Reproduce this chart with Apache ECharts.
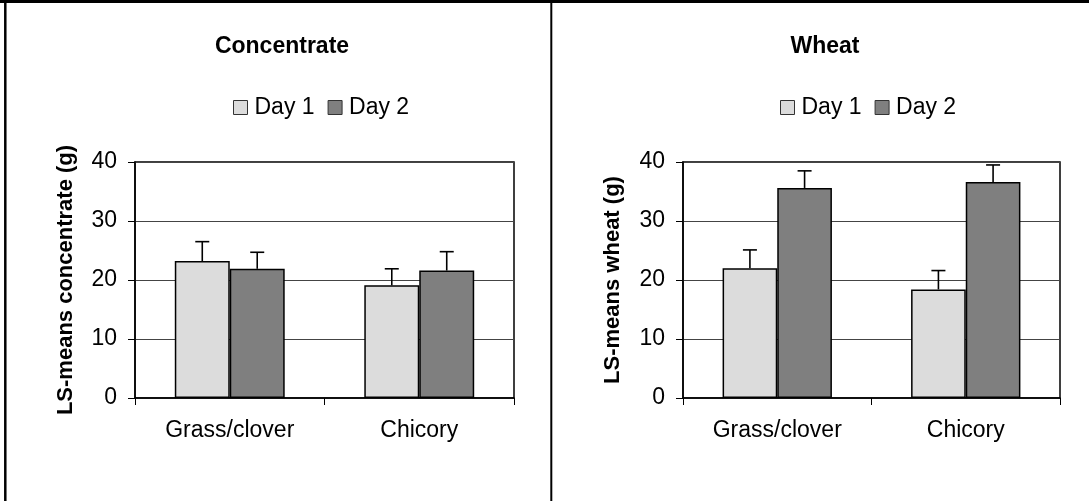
<!DOCTYPE html>
<html>
<head>
<meta charset="utf-8">
<script src="https://cdn.jsdelivr.net/npm/echarts@6/dist/echarts.min.js"></script>
<style>
html,body{margin:0;padding:0;background:#fff;}
#c{width:1089px;height:501px;}
</style>
</head>
<body>
<div id="c"></div>
<script>
const categories = ['Grass/clover', 'Chicory'];
const seriesNames = ['Day 1', 'Day 2'];
const concDay1 = [23.2, 19.1];
const concDay1Upper = [26.5, 21.9];
const concDay2 = [21.9, 21.6];
const concDay2Upper = [24.7, 24.8];
const wheatDay1 = [22.0, 18.4];
const wheatDay1Upper = [25.1, 21.6];
const wheatDay2 = [35.6, 36.6];
const wheatDay2Upper = [38.5, 39.5];
const yMin = 0, yMax = 40, yInterval = 10;
const panelTitles = ['Concentrate', 'Wheat'];
const yNames = ['LS-means concentrate (g)', 'LS-means wheat (g)'];

const FONT = "'Liberation Sans', Arial, sans-serif";
const FS = 23;
const GAP = 0.42;
const c1 = '#dcdcdc', c2 = '#7f7f7f';

const chart = echarts.init(document.getElementById('c'));

function errSeries(name, gridIdx, means, uppers, sign) {
  return {
    type: 'custom',
    name: name,
    xAxisIndex: gridIdx, yAxisIndex: gridIdx,
    z: 5,
    silent: true,
    data: means.map((m, i) => [i, m, uppers[i]]),
    encode: { x: 0, y: [1, 2] },
    renderItem: function (params, api) {
      const bw = api.size([1, 0])[0];
      const barW = bw * (1 - GAP) / 2;
      const cx = api.coord([api.value(0), 0])[0] + sign * barW / 2;
      const yb = api.coord([api.value(0), api.value(1)])[1];
      const yt = api.coord([api.value(0), api.value(2)])[1];
      const st = { stroke: '#000', lineWidth: 1.6 };
      return {
        type: 'group',
        children: [
          { type: 'line', shape: { x1: cx, y1: yb, x2: cx, y2: yt }, style: st },
          { type: 'line', shape: { x1: cx - 7, y1: yt, x2: cx + 7, y2: yt }, style: st }
        ]
      };
    }
  };
}

function barSeries(name, gridIdx, data, color) {
  return {
    type: 'bar', name: name,
    xAxisIndex: gridIdx, yAxisIndex: gridIdx,
    data: data,
    barGap: '0%', barCategoryGap: (GAP * 100) + '%',
    itemStyle: { color: color, borderColor: '#000', borderWidth: 1.5 },
    emphasis: { disabled: true }
  };
}

const grids = [
  { left: 135, right: 575, top: 162, bottom: 103 },
  { left: 683, right: 29, top: 162, bottom: 103 }
];
const nameGaps = [58, 59];

const xAxes = grids.map((g, i) => ({
  type: 'category', gridIndex: i, data: categories,
  axisLine: { lineStyle: { color: '#000', width: 1.5 } },
  axisTick: { show: true, length: 7, lineStyle: { color: '#000', width: 1 } },
  axisLabel: { color: '#000', fontSize: FS, fontFamily: FONT, margin: 21 }
}));

const yAxes = grids.map((g, i) => ({
  type: 'value', gridIndex: i, min: yMin, max: yMax, interval: yInterval,
  name: yNames[i], nameLocation: 'middle', nameGap: nameGaps[i], nameRotate: 90,
  nameTextStyle: { color: '#000', fontSize: 22, fontWeight: 'bold', fontFamily: FONT },
  axisLine: { show: true, lineStyle: { color: '#000', width: 1.5 } },
  axisTick: { show: true, length: 7, lineStyle: { color: '#000', width: 1 } },
  axisLabel: { color: '#000', fontSize: FS, fontFamily: FONT, margin: 18 },
  splitLine: { show: true, lineStyle: { color: '#444', width: 1 } }
}));

function legendAt(left) {
  return {
    left: left, top: 91, data: seriesNames, icon: 'rect', itemWidth: 14, itemHeight: 14,
    itemGap: 13, selectedMode: false,
    itemStyle: { borderColor: '#333', borderWidth: 1 },
    textStyle: { fontSize: FS, color: '#000', fontFamily: FONT, padding: [0, 0, 0, 2] }
  };
}

const option = {
  animation: false,
  backgroundColor: '#fff',
  title: [
    { text: panelTitles[0], left: 277, top: 30, textAlign: 'center',
      textStyle: { fontSize: FS, fontWeight: 'bold', color: '#000', fontFamily: FONT } },
    { text: panelTitles[1], left: 820, top: 30, textAlign: 'center',
      textStyle: { fontSize: FS, fontWeight: 'bold', color: '#000', fontFamily: FONT } }
  ],
  legend: [legendAt(228), legendAt(775)],
  grid: grids.map(g => Object.assign({ show: true, borderColor: '#000', borderWidth: 1.5, backgroundColor: 'transparent' }, g)),
  xAxis: xAxes,
  yAxis: yAxes,
  series: [
    barSeries(seriesNames[0], 0, concDay1, c1),
    barSeries(seriesNames[1], 0, concDay2, c2),
    barSeries(seriesNames[0], 1, wheatDay1, c1),
    barSeries(seriesNames[1], 1, wheatDay2, c2),
    errSeries('err1', 0, concDay1, concDay1Upper, -1),
    errSeries('err2', 0, concDay2, concDay2Upper, 1),
    errSeries('err3', 1, wheatDay1, wheatDay1Upper, -1),
    errSeries('err4', 1, wheatDay2, wheatDay2Upper, 1)
  ],
  graphic: [
    { type: 'line', shape: { x1: 0, y1: 1.5, x2: 1089, y2: 1.5 }, style: { stroke: '#000', lineWidth: 3 } },
    { type: 'line', shape: { x1: 5.3, y1: 0, x2: 5.3, y2: 501 }, style: { stroke: '#000', lineWidth: 2.5 } },
    { type: 'line', shape: { x1: 551.3, y1: 0, x2: 551.3, y2: 501 }, style: { stroke: '#000', lineWidth: 2 } }
  ]
};
chart.setOption(option);
</script>
</body>
</html>
